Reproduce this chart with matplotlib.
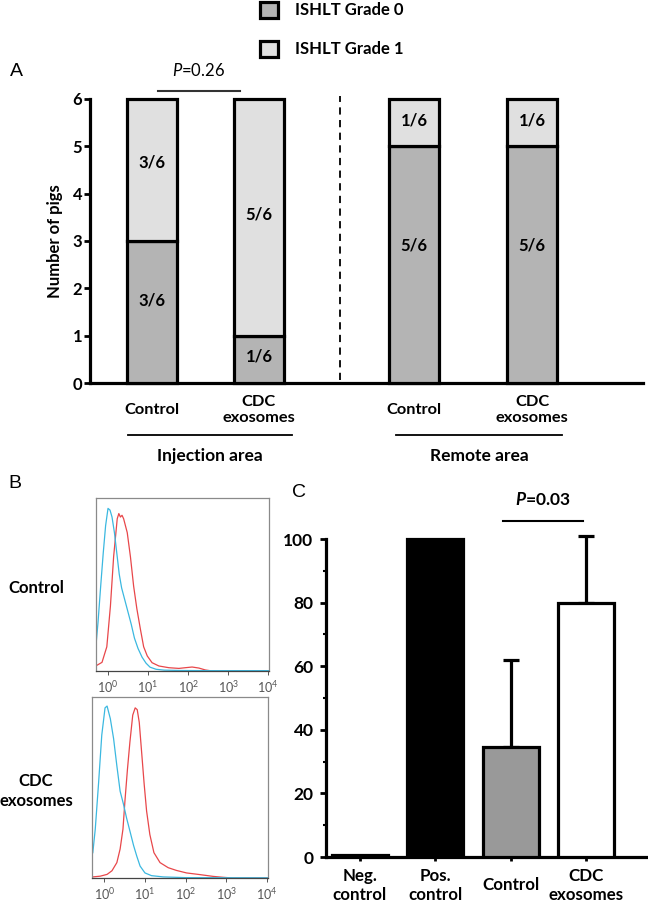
import numpy as np
import matplotlib
matplotlib.use('Agg')
import matplotlib.pyplot as plt
from matplotlib.patches import Patch

plt.rcParams['font.family'] = ['Lato', 'DejaVu Sans']
plt.rcParams['mathtext.fontset'] = 'custom'
plt.rcParams['mathtext.rm'] = 'Lato'
plt.rcParams['mathtext.it'] = 'Lato:italic'
plt.rcParams['mathtext.bf'] = 'Lato:bold'
plt.rcParams['mathtext.bfit'] = 'Lato:italic:bold'

# ---------------- Panel A data ----------------
a_labels = ['Control', 'CDC\nexosomes', 'Control', 'CDC\nexosomes']
a_grade0 = [3, 1, 5, 5]
a_grade1 = [3, 5, 1, 1]
a_total = 6
a_areas = ['Injection area', 'Remote area']
a_yticks = [0, 1, 2, 3, 4, 5, 6]
a_pvalue = '0.26'
a_legend = ['ISHLT Grade 0', 'ISHLT Grade 1']

# ---------------- Panel B data (log10 intensity, relative count) ----------------
b_ctrl_blue_logx = [-0.30, -0.25, -0.18, -0.12, -0.06, 0.0, 0.05, 0.10, 0.16, 0.22, 0.28, 0.34,
                    0.42, 0.50, 0.58, 0.66, 0.75, 0.85, 0.95, 1.05, 1.2, 1.4, 1.8, 2.5, 4.02]
b_ctrl_blue_y = [0.15, 0.28, 0.50, 0.68, 0.84, 0.94, 0.93, 0.89, 0.80, 0.68, 0.56, 0.48,
                 0.41, 0.34, 0.27, 0.19, 0.13, 0.08, 0.045, 0.022, 0.01, 0.005, 0.003, 0.002, 0.002]
b_ctrl_red_logx = [-0.30, -0.15, -0.03, 0.06, 0.14, 0.23, 0.27, 0.31, 0.35, 0.39, 0.48, 0.56,
                   0.64, 0.72, 0.81, 0.89, 0.98, 1.10, 1.27, 1.52, 1.77, 1.93, 2.10, 2.27, 2.43, 2.60, 4.02]
b_ctrl_red_y = [0.03, 0.05, 0.14, 0.375, 0.66, 0.88, 0.91, 0.89, 0.90, 0.88, 0.80, 0.66,
                0.49, 0.36, 0.24, 0.14, 0.087, 0.048, 0.029, 0.019, 0.015, 0.019, 0.023, 0.017, 0.006, 0.0, 0.0]
b_exo_blue_logx = [-0.28, -0.22, -0.14, -0.06, 0.02, 0.07, 0.15, 0.23, 0.31, 0.39, 0.47, 0.55,
                   0.63, 0.72, 0.80, 0.88, 1.0, 1.16, 1.45, 2.0, 4.02]
b_exo_blue_y = [0.14, 0.27, 0.52, 0.79, 0.94, 0.95, 0.88, 0.77, 0.62, 0.48, 0.41, 0.33,
                0.26, 0.18, 0.12, 0.066, 0.028, 0.013, 0.006, 0.002, 0.001]
b_exo_red_logx = [-0.28, -0.10, 0.07, 0.19, 0.31, 0.39, 0.46, 0.51, 0.57, 0.63, 0.70, 0.76,
                  0.81, 0.86, 0.92, 0.98, 1.04, 1.12, 1.22, 1.37, 1.57, 1.77, 2.02, 2.34, 2.67,
                  2.91, 3.15, 4.02]
b_exo_red_y = [0.006, 0.01, 0.02, 0.04, 0.085, 0.16, 0.27, 0.43, 0.60, 0.75, 0.90, 0.94,
               0.93, 0.86, 0.69, 0.52, 0.37, 0.24, 0.14, 0.085, 0.057, 0.042, 0.028, 0.019, 0.009,
               0.004, 0.0, 0.0]
b_row_labels = ['Control', 'CDC\nexosomes']
b_xticks = [1, 10, 100, 1000, 10000]

# ---------------- Panel C data ----------------
c_labels = ['Neg.\ncontrol', 'Pos.\ncontrol', 'Control', 'CDC\nexosomes']
c_values = [0.5, 100, 34.5, 80]
c_err = [0, 0, 27.5, 21]
c_yticks = [0, 20, 40, 60, 80, 100]
c_pvalue = '0.03'

# ---------------- styles / layout ----------------
W, H = 648, 905
fig = plt.figure(figsize=(W / 100, H / 100), dpi=100)

def fr(l, t, r, b):
    return [l / W, 1 - b / H, (r - l) / W, (b - t) / H]

G0 = '#b4b4b4'
G1 = '#e0e0e0'
EDGE = 2.3

# ================= Panel A =================
axA = fig.add_axes(fr(90, 99, 643, 383))
a_pos = [152, 259, 414, 532]
a_width = 50
axA.bar(a_pos, a_grade0, width=a_width, color=G0, edgecolor='black', linewidth=EDGE, clip_on=False, zorder=3)
axA.bar(a_pos, a_grade1, bottom=a_grade0, width=a_width, color=G1, edgecolor='black', linewidth=EDGE,
        clip_on=False, zorder=3)
lab0_y = [1.75, 0.55, 2.9, 2.9]
lab1_y = [4.65, 3.55, 5.55, 5.55]
for x, g0, g1, y0, y1 in zip(a_pos, a_grade0, a_grade1, lab0_y, lab1_y):
    axA.text(x, y0, f'{g0}/{a_total}', ha='center', va='center', fontsize=12, fontweight='bold', zorder=4)
    axA.text(x, y1, f'{g1}/{a_total}', ha='center', va='center', fontsize=12, fontweight='bold', zorder=4)
axA.set_xlim(90, 643)
axA.set_ylim(0, 6)
axA.set_yticks(a_yticks)
axA.set_yticklabels([str(v) for v in a_yticks], fontsize=12, fontweight='bold')
axA.set_xticks(a_pos)
axA.set_xticklabels(a_labels, fontsize=11.8, fontweight='bold', linespacing=1.15)
for t in axA.get_xticklabels():
    t.set_va('center')
axA.tick_params(axis='x', length=0, pad=19.5)
axA.tick_params(axis='y', length=4, width=2, pad=1.5)
for s in ['top', 'right']:
    axA.spines[s].set_visible(False)
for s in ['left', 'bottom']:
    axA.spines[s].set_linewidth(EDGE)
axA.set_ylabel('Number of pigs', fontsize=12, fontweight='bold', labelpad=7)
axA.axvline(340, ymin=0.01, ymax=1.01, color='black', lw=1.3, ls=(0, (4, 3)), clip_on=False)
# significance bracket
axA.plot([158, 240], [6.17, 6.17], color='#333333', lw=1.5, clip_on=False)
axA.text(199, 6.6, r'$\mathit{P}$=' + a_pvalue, ha='center', va='center', fontsize=12)
# group lines
trA = axA.get_xaxis_transform()
for (x0, x1), name in zip([(128, 292), (396, 562)], a_areas):
    axA.plot([x0, x1], [-0.183, -0.183], color='black', lw=1.3, transform=trA, clip_on=False)
    axA.text((x0 + x1) / 2, -0.257, name, ha='center', va='center', fontsize=12.5, fontweight='bold',
             transform=trA)
fig.text(10 / W, 1 - 72 / H, 'A', fontsize=14, family='Liberation Sans', va='center')
handles = [Patch(facecolor=G0, edgecolor='black', linewidth=2.3),
           Patch(facecolor=G1, edgecolor='black', linewidth=2.3)]
fig.legend(handles, a_legend, loc='upper left', bbox_to_anchor=(258 / W, 1 - 0 / H), frameon=False,
           prop={'family': 'Lato', 'weight': 'bold', 'size': 12}, handlelength=1.1, handleheight=1.1,
           handletextpad=1.0, labelspacing=1.35, borderaxespad=0, borderpad=0.1)

# ================= Panel B =================
BLUE = '#3bb8e0'
RED = '#e8474a'
b_boxes = [fr(96, 498, 269, 671), fr(92, 697, 268, 878)]
b_data = [(b_ctrl_blue_logx, b_ctrl_blue_y, b_ctrl_red_logx, b_ctrl_red_y),
          (b_exo_blue_logx, b_exo_blue_y, b_exo_red_logx, b_exo_red_y)]
b_label_y = [588, 791]
for box, (bx, by, rx, ry), lab, ly in zip(b_boxes, b_data, b_row_labels, b_label_y):
    ax = fig.add_axes(box)
    ax.plot(10 ** np.array(rx), ry, color=RED, lw=0.9)
    ax.plot(10 ** np.array(bx), by, color=BLUE, lw=0.9)
    ax.set_xscale('log')
    ax.set_xlim(10 ** -0.3, 10 ** 4.02)
    ax.set_ylim(0, 1.0)
    ax.set_yticks([])
    ax.set_xticks(b_xticks)
    ax.set_xticklabels([rf'$10^{{{int(np.log10(v))}}}$' for v in b_xticks], fontsize=9, color='#555555')
    ax.tick_params(axis='x', which='major', length=3, width=0.7, color='#555555', pad=2.5)
    ax.tick_params(axis='x', which='minor', length=1.6, width=0.5, color='#555555')
    for s in ax.spines.values():
        s.set_color('#8a8a8a')
        s.set_linewidth(0.9)
    ax.spines['bottom'].set_color('#444444')
    fig.text(36 / W, 1 - ly / H, lab, ha='center', va='center', fontsize=12, fontweight='bold',
             linespacing=1.25)
fig.text(8 / W, 1 - 483 / H, 'B', fontsize=14, family='Liberation Sans', va='center')

# ================= Panel C =================
axC = fig.add_axes(fr(326, 857 - 101.5 * 3.18, 648, 857))
c_pos = np.arange(len(c_values))
c_colors = ['black', 'black', '#999999', 'white']
axC.bar(c_pos, c_values, width=0.74, color=c_colors, edgecolor='black', linewidth=EDGE, zorder=3)
err = np.array(c_err, dtype=float)
m = err > 0
axC.errorbar(c_pos[m], np.array(c_values)[m], yerr=[np.zeros(m.sum()), err[m]], fmt='none',
             ecolor='black', elinewidth=EDGE, capsize=5.5, capthick=EDGE, zorder=2, clip_on=False)
axC.set_xlim(-0.45, 3.82)
axC.set_ylim(0, 101.5)
axC.spines['left'].set_bounds(0, 100)
for s in ['top', 'right']:
    axC.spines[s].set_visible(False)
for s in ['left', 'bottom']:
    axC.spines[s].set_linewidth(EDGE)
axC.set_yticks(c_yticks)
axC.set_yticklabels([str(v) for v in c_yticks], fontsize=12.5, fontweight='bold')
axC.set_yticks(np.arange(10, 100, 20), minor=True)
axC.tick_params(axis='y', which='major', length=4, width=2, pad=5)
axC.tick_params(axis='y', which='minor', length=2, width=1.5)
axC.set_xticks(c_pos)
axC.set_xticklabels(c_labels, fontsize=12.2, fontweight='bold', linespacing=1.2)
for t in axC.get_xticklabels():
    t.set_va('center')
axC.tick_params(axis='x', length=3, width=2, pad=17.5)
axC.plot([1.9, 2.96], [105.7, 105.7], color='black', lw=1.5, clip_on=False)
axC.text(2.43, 112.3, r'$\mathbfit{P}$=' + c_pvalue, ha='center', va='center', fontsize=12.5,
         fontweight='bold')
fig.text(292 / W, 1 - 492 / H, 'C', fontsize=14, family='Liberation Sans', va='center')

fig.savefig('out.png', dpi=100)
